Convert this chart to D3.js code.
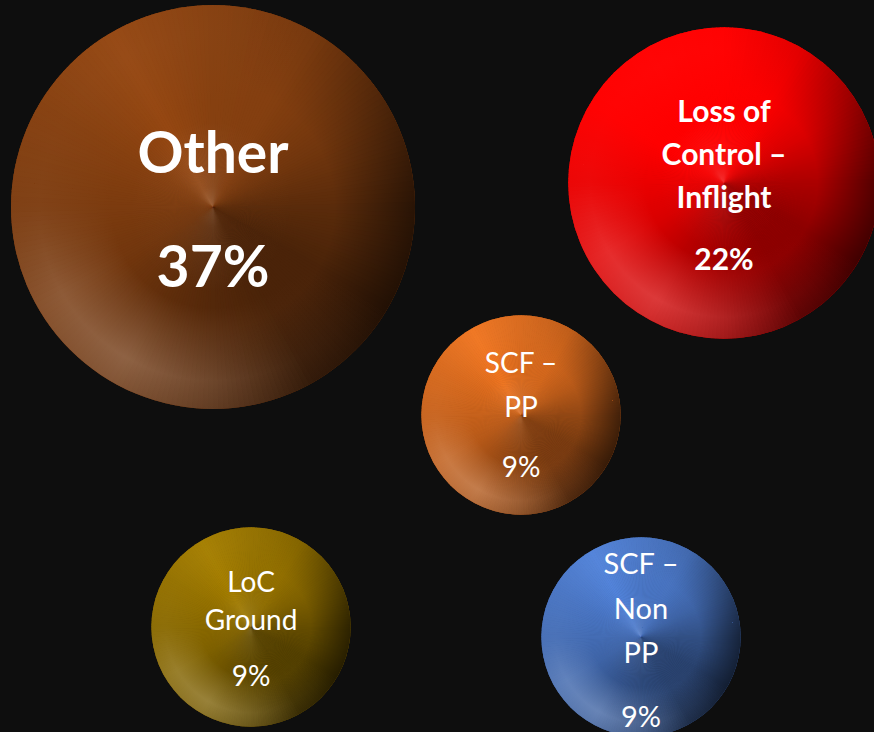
<!DOCTYPE html>
<html>
<head>
<meta charset="utf-8">
<script src="https://cdn.jsdelivr.net/npm/d3@7"></script>
<style>
  html, body { margin: 0; padding: 0; background: #0e0e0e; }
  svg { display: block; }
</style>
</head>
<body>
<svg id="chart" width="874" height="732"></svg>
<script>
// ---- data ----
const categories = ["Other", "Loss of Control – Inflight", "SCF – PP", "LoC Ground", "SCF – Non PP"];
const shares = [37, 22, 9, 9, 9];
const labelLines = [["Other"], ["Loss of", "Control –", "Inflight"], ["SCF –", "PP"], ["LoC", "Ground"], ["SCF –", "Non", "PP"]];
const shareLabels = shares.map(v => v + "%");

// ---- styling / layout ----
const palette = ["#864010", "#ff0000", "#d86a1e", "#957200", "#4a76c4"];
const centers = [[213, 207], [724, 183], [521, 415], [251, 627], [641, 637]];
const labelStyle = [
  { size: 57, weight: 700, first: -34, gap: 0,    pct: 80, pctSize: 57 },
  { size: 30, weight: 700, first: -61, gap: 43,   pct: 87, pctSize: 30 },
  { size: 28, weight: 400, first: -42, gap: 44,   pct: 62, pctSize: 28 },
  { size: 28, weight: 400, first: -35, gap: 38,   pct: 59, pctSize: 28 },
  { size: 29, weight: 400, first: -63, gap: 44.5, pct: 90, pctSize: 29 }
];

const svg = d3.select("#chart");
const defs = svg.append("defs");

// bubble area proportional to share
const rScale = d3.scaleSqrt().domain([0, d3.max(shares)]).range([0, 202]);

// metallic lighting profile, angle in degrees clockwise from 12 o'clock
const angStops = [0, 30, 60, 90, 120, 150, 180, 210, 240, 270, 300, 330, 360];
const darkness = d3.scaleLinear().domain(angStops)
  .range([0, 0.02, 0.15, 0.33, 0.45, 0.45, 0.38, 0.28, 0.15, 0.08, 0, -0.12, 0]);
const glowOp = d3.scaleLinear().domain(angStops)
  .range([0.35, 0.12, 0.06, 0.04, 0.04, 0.08, 0.3, 0.22, 0.1, 0.08, 0.15, 0.4, 0.35]);
const rimLightOp = d3.scaleLinear().domain(angStops)
  .range([0.03, 0, 0, 0, 0, 0.05, 0.3, 0.5, 0.38, 0.08, 0.03, 0.05, 0.03]);
const rimDarkOp = d3.scaleLinear().domain(angStops)
  .range([0, 0.1, 0.35, 0.55, 0.55, 0.4, 0.15, 0, 0, 0, 0, 0, 0]);

function shade(base, d) {
  return d >= 0 ? d3.interpolateRgb(base, "#000")(d) : d3.rgb(base).brighter(-d * 2.5).formatRgb();
}

const N = 240;
const wedges = d3.range(N).map(i => {
  const a0 = i * 2 * Math.PI / N, a1 = (i + 1) * 2 * Math.PI / N;
  return { a0, a1, deg: (i + 0.5) * 360 / N };
});

function radial(id) {
  return defs.append("radialGradient").attr("id", id)
    .attr("gradientUnits", "userSpaceOnUse").attr("cx", 0).attr("cy", 0);
}

const data = categories.map((c, i) => ({
  name: c, value: shares[i], lines: labelLines[i], pctText: shareLabels[i],
  color: palette[i], cx: centers[i][0], cy: centers[i][1], r: rScale(shares[i]), st: labelStyle[i], i
}));

const bubbles = svg.selectAll("g.bubble").data(data).join("g")
  .attr("class", "bubble")
  .attr("transform", d => `translate(${d.cx},${d.cy})`);

bubbles.each(function(d) {
  const g = d3.select(this);
  const id = "b" + d.i;

  defs.append("clipPath").attr("id", id + "clip")
    .append("circle").attr("r", d.r);

  const glowCol = d3.interpolateRgb(d.color, "#fff")(0.55);
  const glow = radial(id + "glow").attr("r", d.r);
  glow.append("stop").attr("offset", 0).attr("stop-color", glowCol).attr("stop-opacity", 0.9);
  glow.append("stop").attr("offset", 0.1).attr("stop-color", glowCol).attr("stop-opacity", 0.4);
  glow.append("stop").attr("offset", 0.42).attr("stop-color", glowCol).attr("stop-opacity", 0);

  const rimCol = d3.interpolateRgb(d.color, "#fff")(0.45);
  const rimL = radial(id + "rimL").attr("r", d.r);
  rimL.append("stop").attr("offset", 0.5).attr("stop-color", rimCol).attr("stop-opacity", 0);
  rimL.append("stop").attr("offset", 0.86).attr("stop-color", rimCol).attr("stop-opacity", 1);
  rimL.append("stop").attr("offset", 1).attr("stop-color", rimCol).attr("stop-opacity", 0.75);

  const rimD = radial(id + "rimD").attr("r", d.r);
  rimD.append("stop").attr("offset", 0.6).attr("stop-color", "#000").attr("stop-opacity", 0);
  rimD.append("stop").attr("offset", 1).attr("stop-color", "#000").attr("stop-opacity", 1);

  const arcBase = d3.arc().innerRadius(0).outerRadius(d.r + 2)
    .startAngle(w => w.a0).endAngle(w => w.a1 + 0.006);
  const arc = d3.arc().innerRadius(0).outerRadius(d.r + 2)
    .startAngle(w => w.a0).endAngle(w => w.a1);

  const body = g.append("g").attr("clip-path", `url(#${id}clip)`);

  body.append("circle").attr("r", d.r + 2).attr("fill", shade(d.color, 0.2));

  body.append("g")
    .selectAll("path").data(wedges).join("path")
    .attr("d", arcBase)
    .attr("fill", w => shade(d.color, darkness(w.deg)));

  const layers = [
    { fill: `url(#${id}rimD)`, op: rimDarkOp },
    { fill: `url(#${id}rimL)`, op: rimLightOp },
    { fill: `url(#${id}glow)`, op: glowOp }
  ];
  layers.forEach(L => {
    body.append("g").attr("shape-rendering", "crispEdges")
      .selectAll("path").data(wedges).join("path")
      .attr("d", arc)
      .attr("fill", L.fill)
      .attr("fill-opacity", w => L.op(w.deg));
  });

  // labels
  const st = d.st;
  const text = g.append("g")
    .attr("fill", "#fff")
    .attr("font-family", "Lato, 'Open Sans', sans-serif")
    .attr("text-anchor", "middle");
  text.selectAll("text.line").data(d.lines).join("text")
    .attr("class", "line")
    .attr("x", 0)
    .attr("y", (t, k) => st.first + k * st.gap)
    .attr("font-size", st.size)
    .attr("font-weight", st.weight)
    .text(t => t);
  text.append("text")
    .attr("class", "pct")
    .attr("x", 0)
    .attr("y", st.pct)
    .attr("font-size", st.pctSize)
    .attr("font-weight", st.weight)
    .text(d.pctText);
});
</script>
</body>
</html>
